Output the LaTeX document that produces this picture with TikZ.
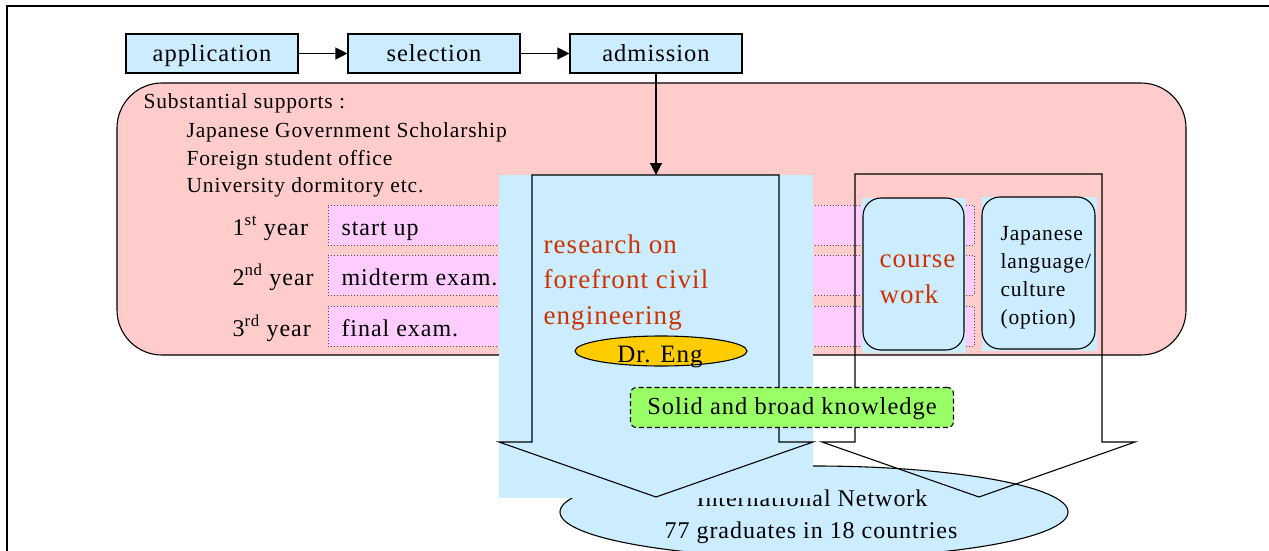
\documentclass[tikz,border=0pt]{standalone}
\usepackage{fontspec}
\setmainfont{Liberation Serif}[LetterSpace=4]
\usetikzlibrary{arrows.meta,shapes.geometric}
\definecolor{lb}{HTML}{CCECFF}
\definecolor{pinkbg}{HTML}{FFCCCC}
\definecolor{magbar}{HTML}{FFCCFF}
\definecolor{greenbox}{HTML}{99FF66}
\definecolor{orangeel}{HTML}{FFCC00}
\definecolor{redtxt}{RGB}{204,51,0}
\begin{document}
\begin{tikzpicture}[x=1pt,y=-1pt,
  line width=1.1pt,
  arr/.style={-{Triangle[length=12pt,width=12pt]},line width=1.1pt},
  topbox/.style={draw,fill=lb,minimum width=172pt,minimum height=39pt,inner sep=0pt,text height=20.5pt,text depth=3.5pt,font=\fontsize{24.5}{28}\selectfont},
  tsup/.style={anchor=base west,inner sep=0pt,font=\fontsize{21.5}{28}\selectfont},
  tmain/.style={anchor=base west,inner sep=0pt,font=\fontsize{24}{28}\selectfont},
  tred/.style={anchor=base west,inner sep=0pt,text=redtxt,font=\fontsize{27}{35}\selectfont},
  tjp/.style={anchor=base west,inner sep=0pt,font=\fontsize{21.5}{28}\selectfont},
  barbox/.style={draw=black!70,dotted,line width=0.9pt,fill=magbar,minimum width=646pt,minimum height=40pt,inner sep=0pt},
  rbox/.style={draw,rounded corners=18pt,inner sep=0pt}
]
\useasboundingbox (0,0) rectangle (1269,551);
\clip (0,0) rectangle (1269,551);
\fill[white] (0,0) rectangle (1269,551);
\draw[line width=2pt] (6.5,6.5) rectangle (1400,700);

% top flow
\node[topbox] (app) at (212,53.5) {application};
\node[topbox] (sel) at (434,53.5) {selection};
\node[topbox] (adm) at (656,53.5) {admission};
\draw[arr] (app) -- (sel);
\draw[arr] (sel) -- (adm);

% support box
\node[draw,fill=pinkbg,rounded corners=45pt,minimum width=1069pt,minimum height=272pt,inner sep=0pt] (support) at (651.5,219) {};
\node[tsup] (s0) at (143,108) {Substantial supports :};
\node[tsup] (s1) at (186,137) {Japanese Government Scholarship};
\node[tsup] (s2) at (186,165) {Foreign student office};
\node[tsup] (s3) at (186,192) {University dormitory etc.};

% years
\node[tmain] (y1) at (232,235) {1\textsuperscript{st} year};
\node[tmain] (y2) at (232,285) {2\textsuperscript{nd} year};
\node[tmain] (y3) at (232,336) {3\textsuperscript{rd} year};
\node[barbox] (b1) at (651,225) {};
\node[barbox] (b2) at (651,275) {};
\node[barbox] (b3) at (651,326) {};
\node[tmain] (b1t) at (341,235) {start up};
\node[tmain] (b2t) at (341,285) {midterm exam.};
\node[tmain] (b3t) at (341,336) {final exam.};

% international network
\node[ellipse,draw,fill=lb,minimum width=508pt,minimum height=92pt,inner sep=0pt] (net) at (814,512) {};
\node[anchor=base,inner sep=0pt,font=\fontsize{24}{28}\selectfont] (net1) at (812,506) {International Network};
\node[anchor=base,inner sep=0pt,font=\fontsize{24}{28}\selectfont] (net2) at (811,538) {77 graduates in 18 countries};

% big research arrow
\fill[lb] (499,175) rectangle (813,498);
\draw (532,175) -- (779,175) -- (779,442) -- (813,442) -- (656,497) -- (499,442) -- (532,442) -- cycle;
\coordinate (bigtop) at (656,175);
\node[tred] (r1) at (543,253) {research on};
\node[tred] (r2) at (543,288) {forefront civil};
\node[tred] (r3) at (543,324) {engineering};
\node[ellipse,draw,fill=orangeel,minimum width=172pt,minimum height=30pt,inner sep=0pt] (dr) at (661,351) {};
\node[anchor=base,inner sep=0pt,font=\fontsize{25}{28}\selectfont] (drt) at (660,362) {Dr. Eng};

% right arrow
\draw (855,174) -- (1102,174) -- (1102,442) -- (1135,442) -- (979,497) -- (822,442) -- (855,442) -- cycle;

% course work / japanese
\fill[lb] (862,198) rectangle (966,353);
\node[rbox,minimum width=101pt,minimum height=152pt] (cw) at (913.5,274) {};
\node[tred] (cw1) at (879,267) {course};
\node[tred] (cw2) at (879,303) {work};
\fill[lb] (982,197) rectangle (1097,351);
\node[rbox,minimum width=113pt,minimum height=152pt] (jp) at (1038.5,273) {};
\node[tjp] (j1) at (1000,240) {Japanese};
\node[tjp] (j2) at (1000,268) {language/};
\node[tjp] (j3) at (1000,296) {culture};
\node[tjp] (j4) at (1000,324) {(option)};

% solid and broad knowledge
\node[draw,dashed,dash pattern=on 5pt off 3pt,fill=greenbox,rounded corners=6pt,minimum width=323pt,minimum height=40pt,inner sep=0pt,text height=19pt,text depth=5pt,font=\fontsize{24.5}{28}\selectfont] (solid) at (792,407.5) {Solid and broad knowledge};

% admission arrow
\draw[arr] (adm) -- (bigtop);
\end{tikzpicture}
\end{document}
